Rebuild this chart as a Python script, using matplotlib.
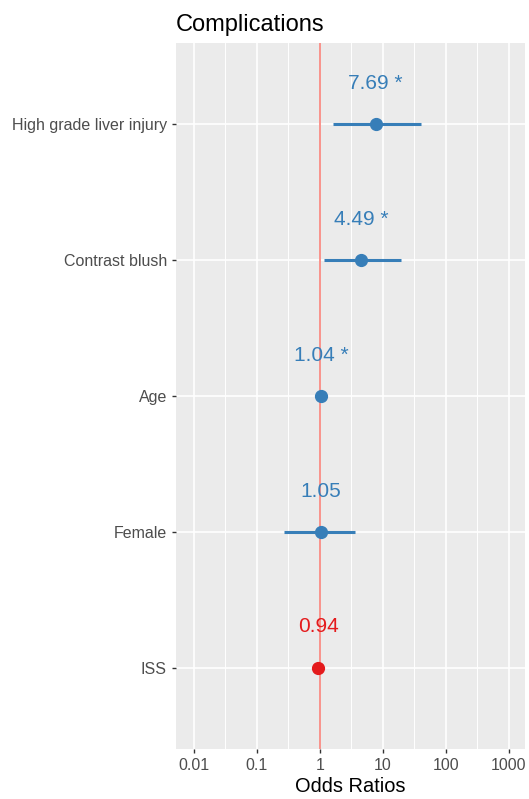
import numpy as np
import matplotlib.pyplot as plt

plt.rcParams['font.family'] = ['Liberation Sans', 'DejaVu Sans']

labels = ["High grade liver injury", "Contrast blush", "Age", "Female", "ISS"]
odds = [7.69, 4.49, 1.04, 1.05, 0.94]
ci_low = [1.64, 1.17, 1.02, 0.27, 0.92]
ci_high = [40.0, 19.3, 1.06, 3.63, 0.96]
signif = [True, True, True, False, False]
colors = ["#377EB8", "#377EB8", "#377EB8", "#377EB8", "#E41A1C"]

major_ticks = [0.01, 0.1, 1, 10, 100, 1000]
tick_labels = ["0.01", "0.1", "1", "10", "100", "1000"]


def make_plot():
    fig = plt.figure(figsize=(5.29, 7.99), dpi=100)
    ax = fig.add_axes([176 / 529, 1 - 749 / 799, 349 / 529, 706 / 799])
    ax.set_facecolor("#EBEBEB")

    n = len(labels)
    ypos = np.arange(n)[::-1] + 1

    ax.set_xscale("log")
    ax.set_xlim(0.0052, 1820)
    ax.set_ylim(0.4, n + 0.6)

    # grid: major + minor (geometric midpoints), ggplot-style
    for t in major_ticks:
        ax.axvline(t, color="white", lw=1.2, zorder=0)
    for t in major_ticks:
        for m in (t / np.sqrt(10), t * np.sqrt(10)):
            ax.axvline(m, color="white", lw=0.6, zorder=0)
    for y in ypos:
        ax.axhline(y, color="white", lw=1.2, zorder=0)

    ax.axvline(1, color="#F8766D", lw=1.1, zorder=1)

    for i in range(n):
        y = ypos[i]
        ax.plot([ci_low[i], ci_high[i]], [y, y], color=colors[i], lw=2.2,
                solid_capstyle="butt", zorder=2)
        ax.plot(odds[i], y, "o", color=colors[i], ms=8.5, zorder=3)
        txt = f"{odds[i]:.2f}" + (" *" if signif[i] else "")
        ax.text(odds[i], y + 0.3, txt, color=colors[i], fontsize=15,
                ha="center", va="center", zorder=4)

    ax.set_xticks(major_ticks)
    ax.set_xticklabels(tick_labels)
    ax.xaxis.set_minor_locator(plt.NullLocator())
    ax.set_yticks(ypos)
    ax.set_yticklabels(labels)
    ax.tick_params(axis="both", colors="#333333", labelcolor="#4D4D4D",
                   labelsize=11.5, length=3, width=1)

    for s in ax.spines.values():
        s.set_visible(False)

    ax.set_xlabel("Odds Ratios", fontsize=14.4, color="black", labelpad=3)
    ax.set_title("Complications", loc="left", fontsize=17, pad=9)

    fig.savefig("out.png", dpi=100)
    plt.close(fig)


if __name__ == "__main__":
    make_plot()
